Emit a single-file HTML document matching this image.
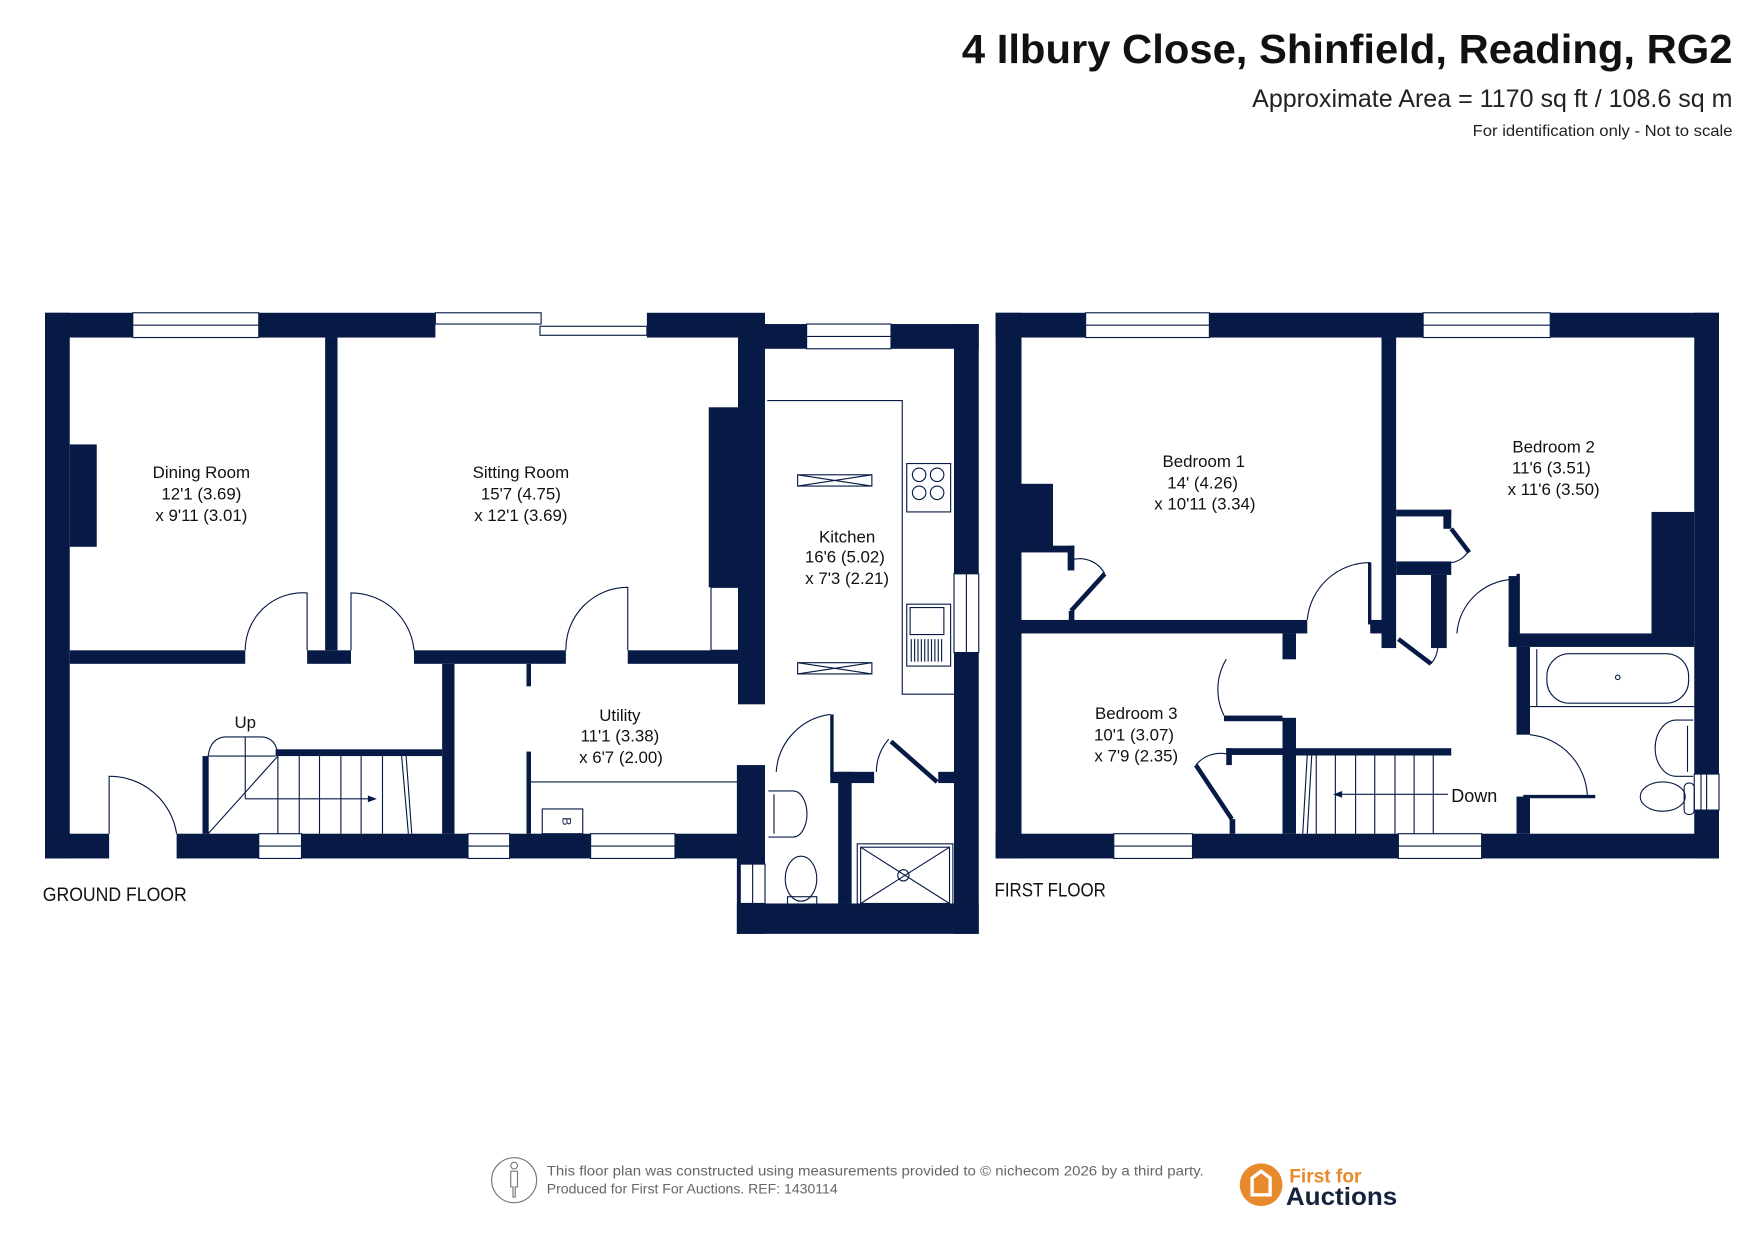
<!DOCTYPE html>
<html><head><meta charset="utf-8"><style>
html,body{margin:0;padding:0;background:#fff;}
svg{display:block;}
text{font-family:"Liberation Sans",sans-serif;}
</style></head><body>
<svg width="1755" height="1241" viewBox="0 0 1560 1103" preserveAspectRatio="none" xmlns="http://www.w3.org/2000/svg">
<rect width="1560" height="1103" fill="#fff"/>
<!-- Header -->
<text x="1540" y="56" text-anchor="end" font-size="36" font-weight="bold" fill="#111" textLength="685" lengthAdjust="spacingAndGlyphs">4 Ilbury Close, Shinfield, Reading, RG2</text>
<text x="1540" y="95" text-anchor="end" font-size="22" fill="#222" textLength="427" lengthAdjust="spacingAndGlyphs">Approximate Area = 1170 sq ft / 108.6 sq m</text>
<text x="1540" y="121" text-anchor="end" font-size="14" fill="#222" textLength="231" lengthAdjust="spacingAndGlyphs">For identification only - Not to scale</text>

<g fill="#061A45">
<rect x="40" y="278" width="347" height="22"/>
<rect x="575" y="278" width="105" height="22"/>
<rect x="658" y="288" width="212" height="22"/>
<rect x="40" y="278" width="22" height="485"/>
<rect x="40" y="741" width="57" height="22"/>
<rect x="157" y="741" width="523" height="22"/>
<rect x="62" y="395" width="24" height="91"/>
<rect x="289" y="300" width="11" height="278"/>
<rect x="62" y="578" width="156" height="12"/>
<rect x="273" y="578" width="39" height="12"/>
<rect x="368" y="578" width="135" height="12"/>
<rect x="558" y="578" width="100" height="12"/>
<rect x="630" y="362" width="30" height="160"/>
<rect x="656" y="300" width="24" height="326"/>
<rect x="393" y="590" width="11" height="151"/>
<rect x="468" y="590" width="4" height="20"/>
<rect x="468" y="668" width="4" height="73"/>
<rect x="245" y="666" width="148" height="6"/>
<rect x="180" y="672" width="5" height="69"/>
<rect x="848" y="288" width="22" height="542"/>
<rect x="655" y="680" width="25" height="150"/>
<rect x="655" y="803" width="215" height="27"/>
<rect x="745" y="686" width="12" height="117"/>
<rect x="738" y="686" width="39" height="10"/>
<rect x="834" y="686" width="14" height="10"/>
<rect x="738" y="635" width="3" height="55"/>

<rect x="885" y="278" width="643" height="22"/>
<rect x="885" y="278" width="23" height="485"/>
<rect x="1506" y="278" width="22" height="485"/>
<rect x="885" y="741" width="643" height="22"/>
<rect x="908" y="430" width="28" height="57"/>
<rect x="908" y="485" width="47" height="6"/>
<rect x="949" y="485" width="6" height="22"/>
<rect x="950" y="543" width="5" height="10"/>
<rect x="908" y="551" width="254" height="12"/>
<rect x="1218" y="551" width="12" height="12"/>
<rect x="1216" y="500" width="3" height="55"/>
<rect x="1228" y="300" width="13" height="276"/>
<rect x="1241" y="453" width="49" height="6"/>
<rect x="1283" y="453" width="7" height="17"/>
<rect x="1241" y="499" width="49" height="12"/>
<rect x="1272" y="511" width="14" height="65"/>
<rect x="1341" y="512" width="8" height="62"/>
<rect x="1348" y="510" width="3" height="56"/>
<rect x="1468" y="455" width="38" height="110"/>
<rect x="1341" y="563" width="165" height="12"/>
<rect x="1348" y="575" width="12" height="78"/>
<rect x="1348" y="708" width="12" height="33"/>
<rect x="1140" y="563" width="12" height="23"/>
<rect x="1140" y="638" width="12" height="103"/>
<rect x="1088" y="636" width="52" height="5"/>
<rect x="1090" y="665" width="200" height="6"/>
<rect x="1090" y="665" width="5" height="15"/>
<rect x="1093" y="728" width="5" height="13"/>
</g>

<g fill="#fff" stroke="#061A45" stroke-width="1">
<rect x="118" y="278" width="112" height="22"/>
<line x1="118" y1="289" x2="230" y2="289"/>
<rect x="717" y="288" width="75" height="22"/>
<line x1="717" y1="299" x2="792" y2="299"/>
<rect x="230" y="741" width="38" height="22"/><line x1="230" y1="752" x2="268" y2="752"/>
<rect x="416" y="741" width="37" height="22"/><line x1="416" y1="752" x2="453" y2="752"/>
<rect x="525" y="741" width="75" height="22"/><line x1="525" y1="752" x2="600" y2="752"/>
<rect x="848" y="510" width="22" height="70"/><line x1="859" y1="510" x2="859" y2="580"/>
<rect x="658" y="768" width="22" height="35"/><line x1="669" y1="768" x2="669" y2="803"/>
<rect x="965" y="278" width="110" height="22"/><line x1="965" y1="289" x2="1075" y2="289"/>
<rect x="1265" y="278" width="113" height="22"/><line x1="1265" y1="289" x2="1378" y2="289"/>
<rect x="990" y="741" width="70" height="22"/><line x1="990" y1="752" x2="1060" y2="752"/>
<rect x="1243" y="741" width="74" height="22"/><line x1="1243" y1="752" x2="1317" y2="752"/>
<rect x="1506" y="688" width="22" height="32"/><line x1="1517" y1="688" x2="1517" y2="720"/><line x1="1512" y1="688" x2="1512" y2="720"/>
<rect x="387" y="278" width="94" height="10"/>
<rect x="480" y="290" width="95" height="8"/>
</g>

<g fill="none" stroke="#061A45" stroke-width="1">
<path d="M273 578 L273 527 A51 51 0 0 0 218 578"/>
<path d="M312 578 L312 527 A56 56 0 0 1 368 578"/>
<path d="M558 578 L558 522 A55 55 0 0 0 503 578"/>
<path d="M97 741 L97 690 A60 60 0 0 1 157 741"/>
<path d="M738 635 A55 55 0 0 0 690 686"/>
<path d="M790 657 A45 45 0 0 0 779 686"/>
<path d="M682 356 L802 356 L802 617 L848 617"/>
<rect x="632" y="522" width="26" height="56"/>
<rect x="709" y="422" width="66" height="10"/><path d="M709 422 L775 432 M709 432 L775 422"/>
<rect x="709" y="589" width="66" height="10"/><path d="M709 589 L775 599 M709 599 L775 589"/>
<rect x="806" y="412" width="39" height="43"/>
<circle cx="817" cy="422" r="6"/><circle cx="833" cy="422" r="6"/>
<circle cx="817" cy="438" r="6"/><circle cx="833" cy="438" r="6"/>
<rect x="806" y="537" width="39" height="55"/>
<rect x="809" y="540" width="30" height="24"/>
<path d="M810 568 v20 M813 568 v20 M816 568 v20 M819 568 v20 M822 568 v20 M825 568 v20 M828 568 v20 M831 568 v20 M834 568 v20 M837 568 v20"/>
<line x1="472" y1="695" x2="658" y2="695"/>
<rect x="482" y="719" width="36" height="22"/>
<path d="M185 672 L185 741 M185 672 L245 672 M185 672 Q187 656 200 655 L233 655 Q246 656 247 672"/>
<path d="M218 655 L218 710 M185 741 L247 672 M218 710 L328 710"/>
<path d="M247 672 V741 M266 672 V741 M284 672 V741 M303 672 V741 M321 672 V741 M340 672 V741 M357 672 L363 741 M361 672 L366 741"/>
<path d="M683 703 L705 703 A12 20 0 0 1 705 744 L683 744"/>
<path d="M688 706 L688 741"/>
<ellipse cx="712" cy="781" rx="14" ry="20"/>
<rect x="700" y="797" width="26" height="7"/>
<rect x="762" y="750" width="85" height="56"/>
<rect x="765" y="753" width="79" height="50"/>
<path d="M765 753 L844 803 M765 803 L844 753"/>
<circle cx="803" cy="778" r="5"/>
<path d="M1218 500 A56 56 0 0 0 1162 551"/>
<path d="M1350 515 A52 52 0 0 0 1295 563"/>
<path d="M1272 590 A25 25 0 0 0 1278 576"/>
<path d="M1090 586 A52 52 0 0 0 1088 636"/>
<path d="M982 510 A25 25 0 0 0 955 497"/>
<path d="M1305 490 A20 20 0 0 1 1290 500"/>
<path d="M1063 680 A28 28 0 0 1 1090 670"/>
<path d="M1411 708 A57 57 0 0 0 1360 653"/>
<path d="M1152 671 H1290 M1170 671 V741 M1187 671 V741 M1205 671 V741 M1222 671 V741 M1240 671 V741 M1257 671 V741 M1274 671 V741 M1162 671 L1158 741 M1166 671 L1162 741"/>
<path d="M1187 706 H1287"/>
<line x1="1366" y1="577" x2="1366" y2="628"/>
<line x1="1360" y1="628" x2="1506" y2="628"/>
<rect x="1375" y="581" width="126" height="44" rx="20"/>
<circle cx="1438" cy="602" r="2"/>
<path d="M1505 640 L1490 640 A18 24 0 0 0 1490 690 L1505 690"/>
<path d="M1500 645 L1500 686"/>
<ellipse cx="1478" cy="708" rx="20" ry="13"/>
<rect x="1497" y="696" width="9" height="28" rx="4"/>
</g>
<g stroke="#061A45" stroke-width="4" fill="none">
<line x1="792" y1="659" x2="833" y2="695"/>
<line x1="982" y1="510" x2="952" y2="543"/>
<line x1="1290" y1="470" x2="1306" y2="491"/>
<line x1="1243" y1="568" x2="1272" y2="590"/>
<line x1="1063" y1="680" x2="1095" y2="728"/>
<line x1="1354" y1="708" x2="1418" y2="708" stroke-width="3"/>
</g>
<path d="M335 710 L327 707 L327 713 Z M1185 706 L1193 703 L1193 709 Z" fill="#061A45"/>
<text x="500" y="730" font-size="11" fill="#061A45" transform="rotate(90 500 730)" text-anchor="middle">B</text>

<g font-size="15" fill="#111" text-anchor="middle">
<text x="179" y="425">Dining Room</text><text x="179" y="444">12'1 (3.69)</text><text x="179" y="463">x 9'11 (3.01)</text>
<text x="463" y="425">Sitting Room</text><text x="463" y="444">15'7 (4.75)</text><text x="463" y="463">x 12'1 (3.69)</text>
<text x="753" y="482">Kitchen</text><text x="751" y="500">16'6 (5.02)</text><text x="753" y="519">x 7'3 (2.21)</text>
<text x="551" y="641">Utility</text><text x="551" y="659">11'1 (3.38)</text><text x="552" y="678">x 6'7 (2.00)</text>
<text x="218" y="647">Up</text>
<text x="1070" y="415">Bedroom 1</text><text x="1069" y="434">14' (4.26)</text><text x="1071" y="453">x 10'11 (3.34)</text>
<text x="1381" y="402">Bedroom 2</text><text x="1379" y="421">11'6 (3.51)</text><text x="1381" y="440">x 11'6 (3.50)</text>
<text x="1010" y="639">Bedroom 3</text><text x="1008" y="658">10'1 (3.07)</text><text x="1010" y="677">x 7'9 (2.35)</text>
</g>
<text x="1290" y="713" font-size="16" fill="#111">Down</text>
<text x="38" y="801" font-size="17" fill="#111" textLength="128" lengthAdjust="spacingAndGlyphs">GROUND FLOOR</text>
<text x="884" y="797" font-size="17" fill="#111" textLength="99" lengthAdjust="spacingAndGlyphs">FIRST FLOOR</text>

<circle cx="457" cy="1049" r="20" fill="none" stroke="#777" stroke-width="1"/>
<path d="M454 1041 h6 v14 h-2 v9 h-2 v-9 h-2 z" fill="none" stroke="#777"/>
<circle cx="457" cy="1036" r="3" fill="none" stroke="#777"/>
<text x="486" y="1045" font-size="12.5" fill="#666" textLength="584" lengthAdjust="spacingAndGlyphs">This floor plan was constructed using measurements provided to © nichecom 2026 by a third party.</text>
<text x="486" y="1061" font-size="12.5" fill="#666">Produced for First For Auctions.     REF: 1430114</text>
<circle cx="1121" cy="1053" r="19" fill="#E8892B"/>
<path d="M1113 1047 L1121 1041 L1129 1047 V1062 H1113 Z" fill="none" stroke="#fff" stroke-width="3"/>
<text x="1146" y="1051" font-size="17" font-weight="bold" fill="#E8892B">First for</text>
<text x="1143" y="1071" font-size="22" font-weight="bold" fill="#15233F" textLength="99" lengthAdjust="spacingAndGlyphs">Auctions</text>
</svg>
</body></html>
